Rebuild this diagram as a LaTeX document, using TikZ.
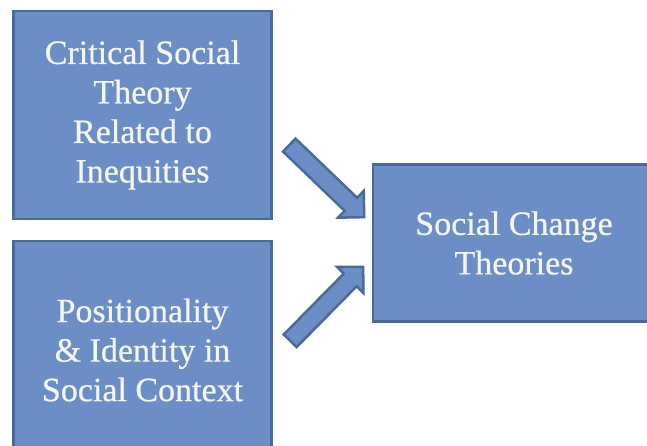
\documentclass[tikz,border=0pt]{standalone}
\usepackage{fontspec}
\setmainfont{Liberation Serif}[FakeBold=0.6,AutoFakeBold=0.6]
\usepackage{tikz}
\usetikzlibrary{shapes.arrows,positioning}
\definecolor{boxfill}{RGB}{108,142,198}
\definecolor{boxline}{RGB}{74,106,152}
\definecolor{boxtext}{RGB}{246,246,240}
\tikzset{
  theorybox/.style={draw=boxline,fill=boxfill,line width=2.5pt,text=boxtext,align=center,
    font=\fontsize{34}{39.5}\selectfont\bfseries,inner sep=0pt},
  blockarrow/.style={single arrow,draw=boxline,fill=boxfill,line width=2.5pt,inner sep=7.75pt,
    single arrow head extend=9.5pt,minimum height=104pt}
}

\begin{document}
\begin{tikzpicture}[x=1pt,y=-1pt]
    \useasboundingbox (0,0) rectangle (647,446);
    \clip (0,0) rectangle (647,446);
    \node [theorybox,minimum width=258pt,minimum height=208pt] (critical) at (142.5,115) {Critical Social\\Theory\\Related to\\Inequities};
    \node [theorybox,minimum width=258pt,minimum height=218pt] (identity) at (142.5,350) {Positionality\\\& Identity in\\Social Context};
    \node [theorybox,minimum width=282pt,minimum height=157pt] (change) at (514,243) {Social Change\\Theories};
    \coordinate (critTail) at (285,141);
    \coordinate (critTip) at (362,215);
    \coordinate (idTail) at (285,346);
    \coordinate (idTip) at (362,268);
    \path (critTail) -- node [blockarrow,sloped,midway] (arrowTop) {} (critTip);
    \path (idTail) -- node [blockarrow,sloped,midway] (arrowBottom) {} (idTip);
  \end{tikzpicture}
\end{document}
